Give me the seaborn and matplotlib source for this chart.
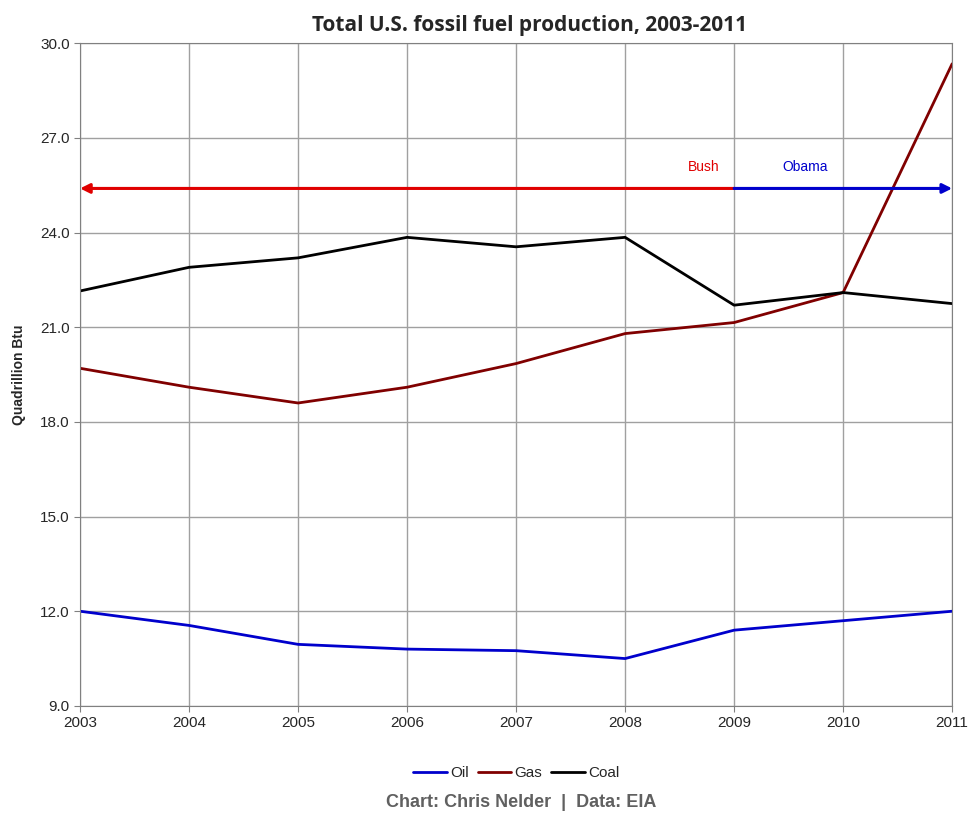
import pandas as pd
import seaborn as sns
import matplotlib.pyplot as plt

years = [2003, 2004, 2005, 2006, 2007, 2008, 2009, 2010, 2011]
oil = [12.0, 11.55, 10.95, 10.8, 10.75, 10.5, 11.4, 11.7, 12.0]
gas = [19.7, 19.1, 18.6, 19.1, 19.85, 20.8, 21.15, 22.1, 29.35]
coal = [22.15, 22.9, 23.2, 23.85, 23.55, 23.85, 21.7, 22.1, 21.75]

fuels = ["Oil", "Gas", "Coal"]
colors = ["#0000CC", "#800000", "#000000"]

# presidential terms drawn as arrows
term_names = ["Bush", "Obama"]
term_start = [2003, 2009]
term_end = [2009, 2011]
term_colors = ["#E00000", "#0000CC"]
arrow_level = 25.4

df = pd.DataFrame({"year": years * 3,
                   "value": oil + gas + coal,
                   "fuel": [f for f in fuels for _ in years]})

sns.set_style("white")
plt.rcParams['font.family'] = ['Liberation Sans', 'DejaVu Sans']

fig = plt.figure(figsize=(9.69, 8.17), dpi=100)
ax = fig.add_axes([0.0826, 0.136, 0.9, 0.811])

sns.lineplot(data=df, x="year", y="value", hue="fuel", palette=colors,
             linewidth=2, ax=ax)

# Bush arrow points left, Obama arrow points right
ax.annotate("", xy=(term_start[0], arrow_level), xytext=(term_end[0], arrow_level),
            arrowprops=dict(arrowstyle="-|>", color=term_colors[0], lw=2.2,
                            mutation_scale=14, shrinkA=0, shrinkB=0))
ax.annotate("", xy=(term_end[1], arrow_level), xytext=(term_start[1], arrow_level),
            arrowprops=dict(arrowstyle="-|>", color=term_colors[1], lw=2.2,
                            mutation_scale=14, shrinkA=0, shrinkB=0))
ax.text(2008.72, arrow_level + 0.55, term_names[0], color=term_colors[0],
        fontsize=10, ha="center")
ax.text(2009.65, arrow_level + 0.55, term_names[1], color=term_colors[1],
        fontsize=10, ha="center")

ax.set_xlim(2003, 2011)
ax.set_ylim(9, 30)
ax.set_xticks(years)
ax.set_yticks([9, 12, 15, 18, 21, 24, 27, 30])
ax.set_yticklabels(["%.1f" % v for v in [9, 12, 15, 18, 21, 24, 27, 30]])
ax.grid(True, color="#A0A0A0", linewidth=1)
for s in ax.spines.values():
    s.set_color("#808080")
ax.tick_params(axis="both", labelsize=11, length=4, color="#808080", direction="out",
               left=True, bottom=True)
ax.set_xlabel("")
ax.set_ylabel("Quadrillion Btu", fontsize=10, fontweight="bold", labelpad=10)

ax.set_title("Total U.S. fossil fuel production, 2003-2011", fontsize=15,
             fontweight="bold", family=["Open Sans", "DejaVu Sans"], pad=9, x=0.515)

leg = ax.legend(loc="upper center", bbox_to_anchor=(0.5, -0.07), ncol=3, frameon=False,
                fontsize=11, handlelength=2.2, handletextpad=0.2, columnspacing=0.6)
leg.set_title(None)

fig.text(0.538, 0.012, "Chart: Chris Nelder  |  Data: EIA", ha="center", fontsize=13,
         fontweight="bold", color="#606060")

fig.savefig("out.png", dpi=100)
